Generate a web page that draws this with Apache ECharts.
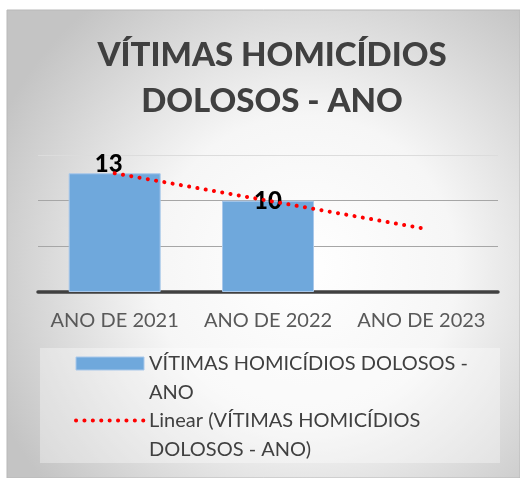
<!DOCTYPE html>
<html>
<head>
<meta charset="utf-8">
<script src="https://cdn.jsdelivr.net/npm/echarts@6/dist/echarts.min.js"></script>
<style>
html,body{margin:0;padding:0;background:#fff;}
#grafico{width:520px;height:478px;}
</style>
</head>
<body>
<div id="grafico"></div>
<script>
// dados do gráfico
var anos = ['ANO DE 2021', 'ANO DE 2022', 'ANO DE 2023'];
var vitimas = [13, 10, null];
var tendencia = [13, 10, 7];
var eixoY = [0, 5, 10, 15];
var nomeSerie = 'VÍTIMAS HOMICÍDIOS DOLOSOS - ANO';
var nomeLinear = 'Linear (VÍTIMAS HOMICÍDIOS DOLOSOS - ANO)';

var fonte = 'Lato';
// deslocamento dos rótulos (13 fica acima, 10 fica sobre o topo)
var deslocRotulo = [[-6, 3], [0, 13], [0, 0]];

var grafico = echarts.init(document.getElementById('grafico'));

var dadosBarra = vitimas.map(function(v, i){
	return {
		value: v,
		label: { offset: deslocRotulo[i] }
	};
});

grafico.setOption({
	animation: false,
	graphic: [
		{
			type: 'rect',
			z: -10,
			shape: { x: 7, y: 10, width: 513, height: 468 },
			style: {
				fill: {
					type: 'radial', x: 0.58, y: 0.55, r: 0.72,
					colorStops: [
						{ offset: 0, color: '#ffffff' },
						{ offset: 0.45, color: '#f6f6f6' },
						{ offset: 1, color: '#c4c4c4' }
					]
				},
				stroke: '#b8b8b8',
				lineWidth: 1
			}
		},
		{
			type: 'rect',
			z: -9,
			shape: { x: 40, y: 348, width: 460, height: 115 },
			style: { fill: 'rgba(255,255,255,0.35)' }
		}
	],
	title: {
		text: 'VÍTIMAS HOMICÍDIOS\nDOLOSOS - ANO',
		left: 267,
		top: 27,
		textAlign: 'center',
		textStyle: {
			fontFamily: fonte,
			fontSize: 33,
			fontWeight: 900,
			lineHeight: 46,
			color: '#404040'
		}
	},
	legend: {
		orient: 'vertical',
		left: 74,
		top: 320,
		padding: 0,
		itemWidth: 68,
		itemHeight: 13,
		itemGap: -30,
		data: [
			{ name: nomeSerie, icon: 'rect', itemStyle: { borderWidth: 1 } },
			{ name: nomeLinear, itemStyle: { color: 'rgba(0,0,0,0)', borderWidth: 0 } }
		],
		// linha em branco no início para alinhar a 1a linha com o ícone
		formatter: function(n){
			if (n === nomeSerie) return '\u00a0\nVÍTIMAS HOMICÍDIOS DOLOSOS -\nANO';
			return '\u00a0\nLinear (VÍTIMAS HOMICÍDIOS\nDOLOSOS - ANO)';
		},
		lineStyle: { width: 4 },
		textStyle: {
			fontFamily: fonte,
			fontSize: 20,
			lineHeight: 29,
			color: '#404040'
		}
	},
	grid: {
		left: 38,
		right: 22,
		top: 155,
		bottom: 186
	},
	xAxis: {
		type: 'category',
		data: anos,
		axisTick: { show: false },
		axisLine: { lineStyle: { color: '#404040', width: 3.5 } },
		axisLabel: {
			interval: 0,
			fontFamily: fonte,
			fontSize: 20,
			color: '#595959',
			margin: 19
		}
	},
	yAxis: {
		type: 'value',
		min: eixoY[0],
		max: eixoY[eixoY.length - 1],
		interval: 5,
		axisLabel: { show: false },
		axisLine: { show: false },
		axisTick: { show: false },
		splitLine: {
			lineStyle: { color: ['#a6a6a6', '#a6a6a6', '#a6a6a6', '#dcdcdc'], width: 1 }
		}
	},
	series: [
		{
			name: nomeSerie,
			type: 'bar',
			barWidth: '60%',
			itemStyle: {
				color: '#6fa8dc',
				borderColor: '#a9c8ea',
				borderWidth: 1
			},
			label: {
				show: true,
				position: 'top',
				distance: 0,
				fontFamily: fonte,
				fontSize: 24,
				fontWeight: 900,
				color: '#000'
			},
			data: dadosBarra
		},
		{
			name: nomeLinear,
			type: 'line',
			symbol: 'none',
			z: 5,
			itemStyle: { color: '#ff0000' },
			lineStyle: {
				color: '#ff0000',
				width: 4,
				type: [0.1, 8.3],
				cap: 'round'
			},
			data: tendencia
		}
	]
});
</script>
</body>
</html>
